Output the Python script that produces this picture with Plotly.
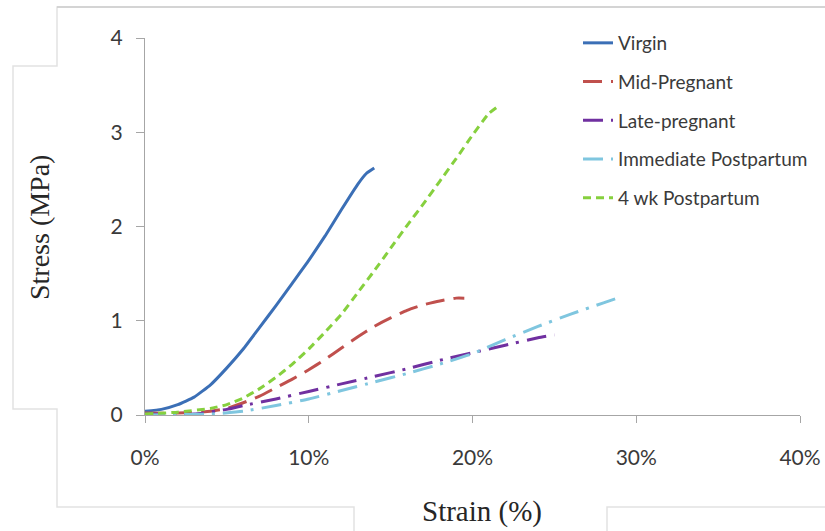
import plotly.graph_objects as go

# ---- data (strain in %, stress in MPa) ----
virgin_x = [0, 1, 2, 3, 4, 5, 6, 7, 8, 9, 10, 11, 12, 13, 13.5, 14]
virgin_y = [0.04, 0.06, 0.11, 0.19, 0.32, 0.50, 0.70, 0.93, 1.16, 1.40, 1.64, 1.90, 2.18, 2.45, 2.56, 2.62]

mid_x = [0, 2, 4, 5, 6, 7, 8, 9, 10, 11, 12, 13, 14, 15, 16, 17, 18, 19, 19.5]
mid_y = [0.02, 0.02, 0.04, 0.07, 0.13, 0.20, 0.29, 0.38, 0.48, 0.59, 0.71, 0.83, 0.94, 1.03, 1.11, 1.17, 1.21, 1.24, 1.24]

late_x = [0, 3, 5, 6, 8, 10, 12, 14, 16, 18, 20, 22, 24, 25]
late_y = [0.01, 0.01, 0.06, 0.10, 0.17, 0.25, 0.33, 0.41, 0.49, 0.58, 0.66, 0.74, 0.82, 0.85]

imm_x = [0, 4, 6, 8, 10, 12, 14, 16, 18, 20, 22, 24, 26, 28, 29]
imm_y = [0.00, 0.01, 0.04, 0.10, 0.17, 0.26, 0.35, 0.44, 0.54, 0.65, 0.80, 0.94, 1.07, 1.19, 1.25]

wk4_x = [0, 2, 4, 5, 6, 7, 8, 9, 10, 11, 12, 13, 14, 15, 16, 17, 18, 19, 20, 21, 21.6]
wk4_y = [0.01, 0.03, 0.07, 0.11, 0.18, 0.28, 0.40, 0.54, 0.70, 0.88, 1.07, 1.30, 1.53, 1.77, 2.01, 2.24, 2.48, 2.72, 2.97, 3.20, 3.28]

names = ["Virgin", "Mid-Pregnant", "Late-pregnant", "Immediate Postpartum", "4 wk Postpartum"]
x_ticks = [0, 10, 20, 30, 40]
x_tick_labels = ["0%", "10%", "20%", "30%", "40%"]
y_ticks = [0, 1, 2, 3, 4]

# ---- layout geometry ----
W, H = 825, 531
L, R, T, B = 145, 25, 38, 116
PW, PH = W - L - R, H - T - B

def px(x):
    return (x - L) / PW

def py(y):
    return (H - B - y) / PH

series = [
    (virgin_x, virgin_y, "#3b6fb6", "solid"),
    (mid_x, mid_y, "#c0504d", "19px,9px"),
    (late_x, late_y, "#7030a0", "20px,8px,3px,8px"),
    (imm_x, imm_y, "#7fc6df", "20px,8px,3px,8px"),
    (wk4_x, wk4_y, "#86d03e", "8px,5px"),
]

fig = go.Figure()
for i, (xs, ys, col, dash) in enumerate(series):
    fig.add_trace(go.Scatter(
        x=xs, y=ys, mode="lines", name=names[i], legendgroup=names[i],
        line=dict(color=col, width=3, dash=dash, shape="spline", smoothing=0.4),
    ))

tickfont = dict(family="Lato, Open Sans, sans-serif", size=21, color="#3a3a3a")
fig.update_xaxes(range=[0, 40], tickvals=x_ticks, ticktext=x_tick_labels, showgrid=False,
                 zeroline=False, showline=True, linecolor="#a6a6a6", linewidth=1.3,
                 ticks="outside", ticklen=7, tickcolor="#a6a6a6", tickwidth=1.3,
                 tickfont=tickfont, ticklabelstandoff=17)
fig.update_yaxes(range=[0, 4], tickvals=y_ticks, showgrid=False, zeroline=False,
                 showline=True, linecolor="#a6a6a6", linewidth=1.3,
                 ticks="outside", ticklen=8, tickcolor="#a6a6a6", tickwidth=1.3,
                 tickfont=tickfont, ticklabelstandoff=9)

gray = "#e2e2e2"
shapes = [
    dict(type="path", xref="paper", yref="paper",
         path=(f"M {px(825)},{py(7)} L {px(57)},{py(7)} L {px(57)},{py(66)} L {px(13)},{py(66)} "
               f"L {px(13)},{py(409)} L {px(57)},{py(409)} L {px(57)},{py(507)} L {px(354)},{py(507)} "
               f"L {px(354)},{py(531)}"),
         line=dict(color=gray, width=1.5), layer="below"),
    dict(type="path", xref="paper", yref="paper",
         path=f"M {px(607)},{py(531)} L {px(607)},{py(507)} L {px(825)},{py(507)}",
         line=dict(color=gray, width=1.5), layer="below"),
    dict(type="line", xref="paper", yref="paper", x0=px(57), x1=px(825), y0=py(7), y1=py(7),
         line=dict(color="#cccccc", width=1.5), layer="below"),
]

annotations = [
    dict(text="Strain (%)", xref="paper", yref="paper", x=px(482), y=py(512),
         showarrow=False, font=dict(family="Liberation Serif, Times New Roman, serif", size=29, color="#262626"),
         xanchor="center", yanchor="middle"),
    dict(text="Stress (MPa)", xref="paper", yref="paper", x=px(39), y=py(228),
         showarrow=False, textangle=-90,
         font=dict(family="Liberation Serif, Times New Roman, serif", size=28, color="#262626"),
         xanchor="center", yanchor="middle"),
]

fig.update_layout(
    width=W, height=H, margin=dict(l=L, r=R, t=T, b=B, autoexpand=False),
    paper_bgcolor="white", plot_bgcolor="white",
    shapes=shapes, annotations=annotations,
    legend=dict(x=px(578), y=py(24), xanchor="left", yanchor="top",
                font=dict(family="Lato, Open Sans, sans-serif", size=19, color="#3a3a3a"),
                tracegroupgap=11, bgcolor="rgba(0,0,0,0)"),
)

fig.write_html("out.html", config={"displayModeBar": False},
               post_script="document.body.style.margin='0';document.body.style.overflow='hidden';")
